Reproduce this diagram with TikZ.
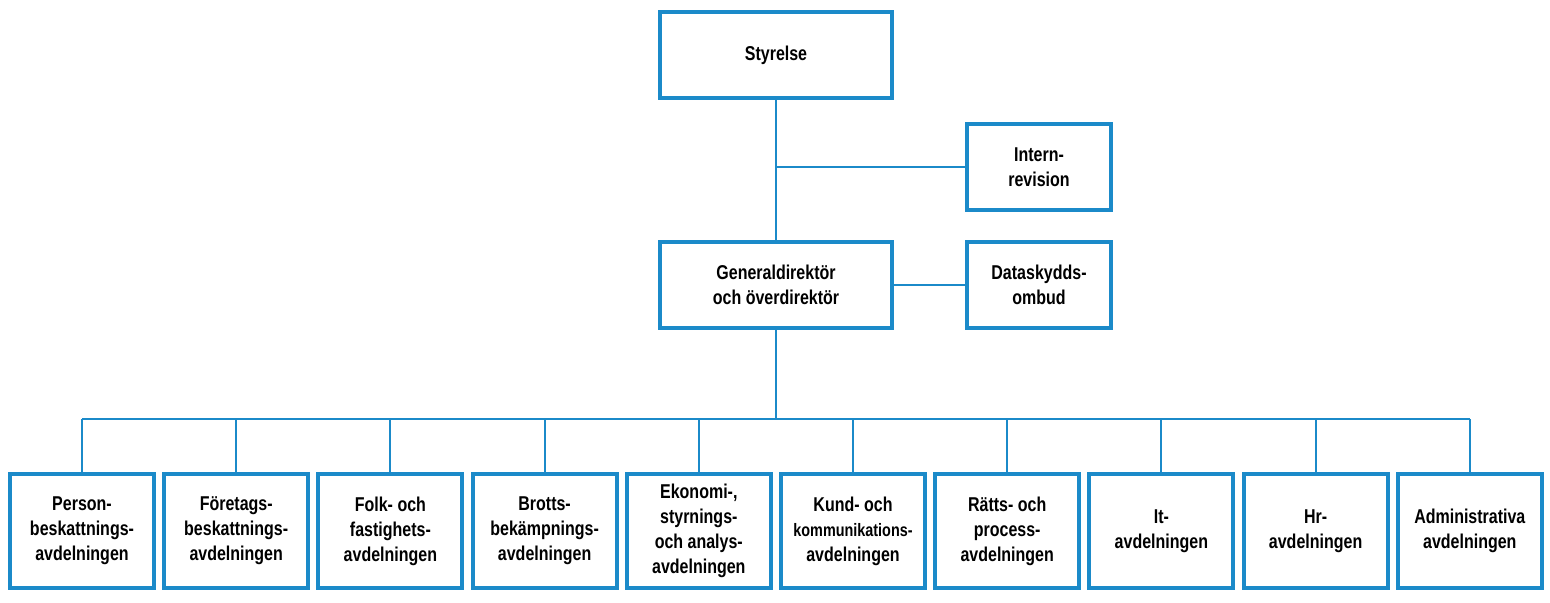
\documentclass[tikz,border=0pt]{standalone}
\usepackage{fontspec}
\setmainfont{Liberation Sans}[FakeStretch=0.8]
\usetikzlibrary{positioning}
\definecolor{orgblue}{HTML}{1B8AC9}
\begin{document}
\begin{tikzpicture}[x=0.5pt, y=-0.5pt,
          box/.style={draw=orgblue, line width=2pt, fill=white, align=center,
            font=\fontsize{10}{12.5}\selectfont\bfseries, inner sep=1pt},
          big box/.style={box, minimum width=116pt, minimum height=43pt},
          side box/.style={box, minimum width=72pt, minimum height=43pt},
          dept box/.style={box, minimum width=72pt, minimum height=57pt},
          link/.style={draw=orgblue, line width=1pt}]
          \useasboundingbox (0,0) rectangle (1550,602);
          \node[big box] (sty) at (776,55) {Styrelse};
          \node[side box] (rev) at (1039,167) {Intern-\\revision};
          \node[big box] (gd) at (776,285) {Generaldirektör\\och överdirektör};
          \node[side box] (dso) at (1039,285) {Dataskydds-\\ombud};
          \coordinate (bus) at (776,419);
          % vertical spine and side branches
          \draw[link] (sty) -- (gd);
          \draw[link] (rev.west) -- (rev.west -| sty.south);
          \draw[link] (gd) -- (dso);
          \draw[link] (gd) -- (bus);
          % departments
          \foreach \i/\txt in {1/{Person-\\beskattnings-\\avdelningen},
              2/{Företags-\\beskattnings-\\avdelningen},
              3/{Folk- och\\fastighets-\\avdelningen},
              4/{Brotts-\\bekämpnings-\\avdelningen},
              5/{Ekonomi-,\\styrnings-\\och analys-\\avdelningen},
              6/{Kund- och\\{\fontsize{9}{12.5}\selectfont kommunikations-}\\avdelningen},
              7/{Rätts- och\\process-\\avdelningen},
              8/{It-\\avdelningen},
              9/{Hr-\\avdelningen},
              10/{Administrativa\\avdelningen}}{
              \node[dept box] (d\i) at ({82+154.2*(\i-1)},531) {\txt};
              \draw[link] (d\i.north) -- (d\i.north |- bus);
          }
          \draw[link] (d1.north |- bus) -- (d10.north |- bus);
\end{tikzpicture}
\end{document}
